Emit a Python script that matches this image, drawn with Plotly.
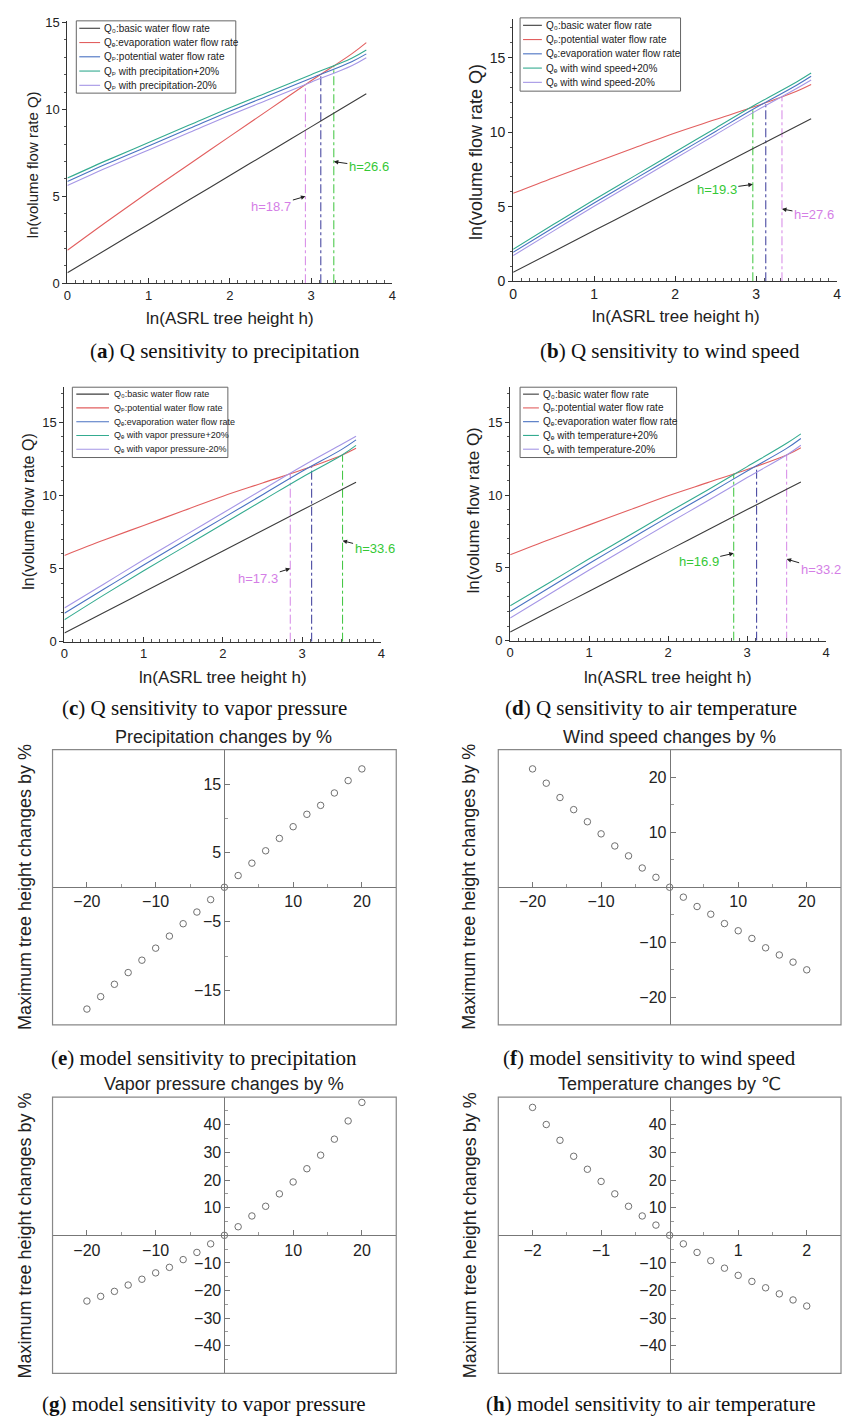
import plotly.graph_objects as go

W, H = 846, 1425
SANS = "Liberation Sans, Arial, DejaVu Sans, sans-serif"
SERIF = "Liberation Serif, Times New Roman, serif"

# ---------------- data ----------------
ln_h = [0, 0.5, 1.0, 1.5, 2.0, 2.5, 3.0, 3.5, 3.68]
q0_basic = [0.6, 2.0, 3.4, 4.8, 6.2, 7.6, 9.0, 10.4, 10.9]

# (a) precipitation
a_qe = [1.9, 3.6, 5.25, 6.85, 8.45, 10.05, 11.65, 13.2, 13.85]
a_qp = [5.85, 6.9, 7.9, 8.9, 9.9, 10.85, 11.8, 12.75, 13.2]
a_qp_p20 = [6.05, 7.1, 8.1, 9.1, 10.1, 11.05, 12.0, 12.95, 13.42]
a_qp_m20 = [5.62, 6.67, 7.67, 8.67, 9.67, 10.62, 11.57, 12.52, 12.98]
a_cross_x = [2.93, 3.12, 3.28]
a_cross_q = [11.45, 12.03, 12.53]
a_h_labels = ["h=18.7", "h=26.6"]
a_legend = ["Q₀:basic water flow rate",
            "Qₑ:evaporation water flow rate",
            "Qₚ:potential water flow rate",
            "Qₚ with precipitation+20%",
            "Qₚ with precipitation-20%"]

# (b) wind speed
b_qp = [5.9, 6.95, 7.95, 8.95, 9.95, 10.85, 11.75, 12.75, 13.2]
b_qe = [1.95, 3.6, 5.25, 6.85, 8.45, 10.05, 11.65, 13.15, 13.75]
b_qe_p20 = [2.15, 3.82, 5.47, 7.07, 8.67, 10.27, 11.87, 13.37, 13.97]
b_qe_m20 = [1.72, 3.38, 5.03, 6.63, 8.23, 9.83, 11.43, 12.93, 13.5]
b_cross_x = [2.96, 3.12, 3.32]
b_cross_q = [11.72, 12.02, 12.39]
b_h_labels = ["h=19.3", "h=27.6"]
b_legend = ["Q₀:basic water flow rate",
            "Qₚ:potential water flow rate",
            "Qₑ:evaporation water flow rate",
            "Qₑ with wind speed+20%",
            "Qₑ with wind speed-20%"]

# (c) vapor pressure
c_qp = [5.9, 6.95, 7.95, 8.95, 9.95, 10.85, 11.75, 12.75, 13.22]
c_qe = [1.95, 3.6, 5.25, 6.85, 8.45, 10.05, 11.65, 13.15, 13.8]
c_qe_p20 = [1.5, 3.2, 4.85, 6.45, 8.05, 9.65, 11.25, 12.75, 13.42]
c_qe_m20 = [2.3, 3.95, 5.6, 7.2, 8.8, 10.4, 12.0, 13.5, 14.05]
c_cross_x = [2.85, 3.12, 3.51]
c_cross_q = [11.5, 12.02, 12.78]
c_h_labels = ["h=17.3", "h=33.6"]
c_legend = ["Q₀:basic water flow rate",
            "Qₚ:potential water flow rate",
            "Qₑ:evaporation water flow rate",
            "Qₑ with vapor pressure+20%",
            "Qₑ with vapor pressure-20%"]

# (d) air temperature
d_qp = [5.9, 6.95, 7.95, 8.95, 9.95, 10.85, 11.75, 12.75, 13.25]
d_qe = [2.0, 3.65, 5.3, 6.9, 8.5, 10.05, 11.65, 13.2, 13.88]
d_qe_p20 = [2.4, 4.0, 5.62, 7.2, 8.8, 10.35, 11.95, 13.55, 14.2]
d_qe_m20 = [1.55, 3.2, 4.85, 6.45, 8.05, 9.6, 11.2, 12.75, 13.42]
d_cross_x = [2.83, 3.12, 3.50]
d_cross_q = [11.47, 12.02, 12.77]
d_h_labels = ["h=16.9", "h=33.2"]
d_legend = ["Q₀:basic water flow rate",
            "Qₚ:potential water flow rate",
            "Qₑ:evaporation water flow rate",
            "Qₑ with temperature+20%",
            "Qₑ with temperature-20%"]

# (e)-(h) model sensitivity
pct_change = [-20, -18, -16, -14, -12, -10, -8, -6, -4, -2, 0,
              2, 4, 6, 8, 10, 12, 14, 16, 18, 20]
temp_change = [-2.0, -1.8, -1.6, -1.4, -1.2, -1.0, -0.8, -0.6, -0.4, -0.2, 0.0,
               0.2, 0.4, 0.6, 0.8, 1.0, 1.2, 1.4, 1.6, 1.8, 2.0]
e_height = [-17.7, -15.9, -14.1, -12.4, -10.6, -8.85, -7.1, -5.3, -3.6, -1.8, 0,
            1.7, 3.5, 5.3, 7.1, 8.8, 10.6, 11.9, 13.7, 15.5, 17.2]
f_height = [21.5, 18.9, 16.3, 14.1, 11.9, 9.7, 7.5, 5.7, 3.5, 1.8, 0,
            -1.8, -3.5, -4.9, -6.6, -7.9, -9.3, -11.0, -12.3, -13.6, -15.0]
g_height = [-23.8, -22.1, -20.3, -18.0, -15.9, -13.6, -11.6, -8.8, -6.2, -3.1, 0,
            3.1, 7.0, 10.5, 15.0, 19.3, 24.1, 29.0, 34.8, 41.4, 48.1]
h_height = [46.3, 40.1, 34.4, 28.6, 23.9, 19.5, 15.0, 10.5, 7.0, 3.7, 0,
            -3.1, -6.2, -9.2, -11.9, -14.5, -16.7, -19.0, -21.2, -23.4, -25.6]

# ---------------- styles ----------------
C_BLACK = "#3c3c3c"
C_RED = "#e25f5f"
C_BLUE = "#4a72c2"
C_TEAL = "#34ab90"
C_LAV = "#a596e6"
V_PINK = "#d586e6"
V_BLUE = "#383898"
V_GREEN = "#3cc43c"
T_PINK = "#d47ee6"
T_GREEN = "#35c835"


def xp(px):
    return px / W


def yp(py):
    return 1 - py / H


def names(i):
    s = "" if i == 1 else str(i)
    return "x" + s, "y" + s, "xaxis" + s, "yaxis" + s


fig = go.Figure()
annotations = []
shapes = []
layout_axes = {}

line_panels = [
    dict(i=1, xpx=(64, 392), ypx=(15, 280), ymax=15.1, tfs=13, yts=15,
         series=[(q0_basic, C_BLACK), (a_qe, C_RED), (a_qp, C_BLUE), (a_qp_p20, C_TEAL), (a_qp_m20, C_LAV)],
         cx=a_cross_x, cq=a_cross_q, vcol=[V_PINK, V_BLUE, V_GREEN],
         labels=a_h_labels, lab=[(0, 5.0, -34, 10, T_PINK), (2, 7.0, 35, 5, T_GREEN)],
         legend=a_legend, lbox=(73, 15, 234, 88), ly0=22.5, ldy=14.4, lsx=(76, 97), ltx=99, lfs=10,
         ytitle=(29, 160), xtitle=(228, 316), cap=("a", "Q sensitivity to precipitation", 223, 348)),
    dict(i=2, xpx=(514, 841), ypx=(13, 278), ymax=17.6, tfs=14, yts=18,
         series=[(q0_basic, C_BLACK), (b_qp, C_RED), (b_qe, C_BLUE), (b_qe_p20, C_TEAL), (b_qe_m20, C_LAV)],
         cx=b_cross_x, cq=b_cross_q, vcol=[V_GREEN, V_BLUE, V_PINK],
         labels=b_h_labels, lab=[(0, 6.5, -36, 5, T_GREEN), (2, 4.85, 32, 6, T_PINK)],
         legend=b_legend, lbox=(521, 12, 683, 86), ly0=19.5, ldy=14.4, lsx=(524, 543), ltx=545, lfs=10,
         ytitle=(476, 147), xtitle=(678, 314), cap=("b", "Q sensitivity to wind speed", 672, 348)),
    dict(i=3, xpx=(61, 381), ypx=(385, 642), ymax=17.4, tfs=13, yts=16,
         series=[(q0_basic, C_BLACK), (c_qp, C_RED), (c_qe, C_BLUE), (c_qe_p20, C_TEAL), (c_qe_m20, C_LAV)],
         cx=c_cross_x, cq=c_cross_q, vcol=[V_PINK, V_BLUE, V_GREEN],
         labels=c_h_labels, lab=[(0, 5.0, -32, 10, T_PINK), (2, 6.9, 32, 8, T_GREEN)],
         legend=c_legend, lbox=(69, 385, 226, 456), ly0=392, ldy=13.9, lsx=(73, 106), ltx=109, lfs=9,
         ytitle=(25, 510), xtitle=(221, 678), cap=("c", "Q sensitivity to vapor pressure", 202, 709)),
    dict(i=4, xpx=(511, 830), ypx=(385, 641), ymax=17.4, tfs=13, yts=17,
         series=[(q0_basic, C_BLACK), (d_qp, C_RED), (d_qe, C_BLUE), (d_qe_p20, C_TEAL), (d_qe_m20, C_LAV)],
         cx=d_cross_x, cq=d_cross_q, vcol=[V_GREEN, V_BLUE, V_PINK],
         labels=d_h_labels, lab=[(0, 6.0, -35, 8, T_GREEN), (2, 5.6, 34, 10, T_PINK)],
         legend=d_legend, lbox=(521, 385, 679, 456), ly0=392, ldy=13.9, lsx=(524, 540), ltx=542, lfs=10,
         ytitle=(474, 510), xtitle=(670, 678), cap=("d", "Q sensitivity to air temperature", 653, 709)),
]

for p in line_panels:
    xa, ya, xk, yk = names(p["i"])
    for k in range(len(p["cx"])):
        fig.add_trace(go.Scatter(x=[p["cx"][k], p["cx"][k]], y=[0, p["cq"][k]], mode="lines",
                                 line=dict(color=p["vcol"][k], width=1, dash="dashdot"),
                                 xaxis=xa, yaxis=ya, showlegend=False, hoverinfo="skip"))
    for ys, col in p["series"]:
        fig.add_trace(go.Scatter(x=ln_h, y=ys, mode="lines", line=dict(color=col, width=1.1, shape="spline"),
                                 xaxis=xa, yaxis=ya, showlegend=False))
    x0, x1 = p["xpx"]
    t, b = p["ypx"]
    layout_axes[xk] = dict(domain=[xp(x0), xp(x1)], range=[0, 4], anchor=ya, showline=True,
                           linecolor="#333", linewidth=1, ticks="inside", ticklen=5, tickcolor="#333",
                           tick0=0, dtick=1, showgrid=False, zeroline=False,
                           minor=dict(dtick=0.1, ticks="inside", ticklen=3, tickcolor="#555"),
                           tickfont=dict(family=SANS, size=p["tfs"], color="#222"))
    layout_axes[yk] = dict(domain=[yp(b), yp(t)], range=[0, p["ymax"]], anchor=xa, showline=True,
                           linecolor="#333", linewidth=1, ticks="outside", ticklen=4, tickcolor="#333",
                           tick0=0, dtick=5, showgrid=False, zeroline=False,
                           minor=dict(dtick=1, ticks="outside", ticklen=2, tickcolor="#555"),
                           tickfont=dict(family=SANS, size=p["tfs"], color="#222"))
    for (k, yv, ax, ay, col), txt in zip(p["lab"], p["labels"]):
        annotations.append(dict(x=p["cx"][k], y=yv, xref=xa, yref=ya, text=txt, showarrow=True,
                                ax=ax, ay=ay, arrowhead=2, arrowsize=0.9, arrowwidth=1, arrowcolor="#222",
                                standoff=0, font=dict(family=SANS, size=13, color=col)))
    lx0, ly0, lx1, ly1 = p["lbox"]
    shapes.append(dict(type="rect", xref="paper", yref="paper", x0=xp(lx0), x1=xp(lx1),
                       y0=yp(ly1), y1=yp(ly0), line=dict(color="#666", width=1),
                       fillcolor="white", layer="above"))
    for j, (txt, (ys, col)) in enumerate(zip(p["legend"], p["series"])):
        yy = p["ly0"] + j * p["ldy"]
        shapes.append(dict(type="line", xref="paper", yref="paper", x0=xp(p["lsx"][0]), x1=xp(p["lsx"][1]),
                           y0=yp(yy), y1=yp(yy), line=dict(color=col, width=1.1), layer="above"))
        annotations.append(dict(x=xp(p["ltx"]), y=yp(yy), xref="paper", yref="paper", text=txt,
                                showarrow=False, xanchor="left", yanchor="middle",
                                font=dict(family=SANS, size=p["lfs"], color="#222")))
    annotations.append(dict(x=xp(p["ytitle"][0]), y=yp(p["ytitle"][1]), xref="paper", yref="paper",
                            text="ln(volume flow rate Q)", textangle=-90, showarrow=False,
                            xanchor="center", yanchor="middle",
                            font=dict(family=SANS, size=p["yts"], color="#222")))
    annotations.append(dict(x=xp(p["xtitle"][0]), y=yp(p["xtitle"][1]), xref="paper", yref="paper",
                            text="ln(ASRL tree height h)", showarrow=False,
                            xanchor="center", yanchor="middle",
                            font=dict(family=SANS, size=17, color="#222")))
    letter, cap, cxp, cyp = p["cap"]
    annotations.append(dict(x=xp(cxp), y=yp(cyp), xref="paper", yref="paper",
                            text="(<b>%s</b>) %s" % (letter, cap), showarrow=False,
                            xanchor="center", yanchor="middle",
                            font=dict(family=SERIF, size=21, color="#111")))

scatter_panels = [
    dict(i=5, xpx=(49, 396), ypx=(751, 1029), x=pct_change, y=e_height, xr=25, yr=20,
         xmaj=[-20, -10, 10, 20], xmin=[-15, -5, 5, 15],
         ymaj=[-15, -5, 5, 15], ymin=[-10, 10],
         title="Precipitation changes by %", tpos=(222, 738), ytpos=(21, 890),
         cap=("e", "model sensitivity to precipitation", 202, 1062)),
    dict(i=6, xpx=(499, 845), ypx=(751, 1029), x=pct_change, y=f_height, xr=25, yr=25,
         xmaj=[-20, -10, 10, 20], xmin=[-15, -5, 5, 15],
         ymaj=[-20, -10, 10, 20], ymin=[-15, -5, 5, 15],
         title="Wind speed changes by %", tpos=(672, 738), ytpos=(470, 890),
         cap=("f", "model sensitivity to wind speed", 652, 1062)),
    dict(i=7, xpx=(49, 396), ypx=(1102, 1381), x=pct_change, y=g_height, xr=25, yr=50,
         xmaj=[-20, -10, 10, 20], xmin=[-15, -5, 5, 15],
         ymaj=[-40, -30, -20, -10, 10, 20, 30, 40], ymin=[-45, -35, -25, -15, -5, 5, 15, 25, 35, 45],
         title="Vapor pressure changes by %", tpos=(222, 1089), ytpos=(21, 1242),
         cap=("g", "model sensitivity to vapor pressure", 202, 1412)),
    dict(i=8, xpx=(499, 845), ypx=(1102, 1381), x=temp_change, y=h_height, xr=2.5, yr=50,
         xmaj=[-2, -1, 1, 2], xmin=[-1.5, -0.5, 0.5, 1.5],
         ymaj=[-40, -30, -20, -10, 10, 20, 30, 40], ymin=[-45, -35, -25, -15, -5, 5, 15, 25, 35, 45],
         title="Temperature changes by ℃", tpos=(672, 1089), ytpos=(470, 1242),
         cap=("h", "model sensitivity to air temperature", 653, 1412)),
]

for p in scatter_panels:
    xa, ya, xk, yk = names(p["i"])
    fig.add_trace(go.Scatter(x=p["x"], y=p["y"], mode="markers",
                             marker=dict(symbol="circle-open", size=6.5, color="#707070", line=dict(width=1)),
                             xaxis=xa, yaxis=ya, showlegend=False))
    x0, x1 = p["xpx"]
    t, b = p["ypx"]
    xd = [xp(x0), xp(x1)]
    yd = [yp(b), yp(t)]
    layout_axes[xk] = dict(domain=xd, range=[-p["xr"], p["xr"]], anchor="free", position=(yd[0] + yd[1]) / 2,
                           showline=True, linecolor="#777", linewidth=1, ticks="inside", ticklen=5,
                           tickcolor="#777", tickmode="array", tickvals=p["xmaj"],
                           minor=dict(tickmode="array", tickvals=p["xmin"], ticks="inside", ticklen=3,
                                      tickcolor="#999"),
                           showgrid=False, zeroline=False,
                           tickfont=dict(family=SANS, size=16, color="#222"))
    layout_axes[yk] = dict(domain=yd, range=[-p["yr"], p["yr"]], anchor="free", position=(xd[0] + xd[1]) / 2,
                           showline=True, linecolor="#777", linewidth=1, ticks="inside", ticklen=5,
                           tickcolor="#777", tickmode="array", tickvals=p["ymaj"],
                           minor=dict(tickmode="array", tickvals=p["ymin"], ticks="inside", ticklen=3,
                                      tickcolor="#999"),
                           showgrid=False, zeroline=False,
                           tickfont=dict(family=SANS, size=16, color="#222"))
    shapes.append(dict(type="rect", xref=xa + " domain", yref=ya + " domain", x0=0, x1=1, y0=0, y1=1,
                       line=dict(color="#888", width=1.2), layer="above"))
    annotations.append(dict(x=xp(p["tpos"][0]), y=yp(p["tpos"][1]), xref="paper", yref="paper",
                            text=p["title"], showarrow=False, xanchor="center", yanchor="middle",
                            font=dict(family=SANS, size=18, color="#222")))
    annotations.append(dict(x=xp(p["ytpos"][0]), y=yp(p["ytpos"][1]), xref="paper", yref="paper",
                            text="Maximum tree height changes by %", textangle=-90, showarrow=False,
                            xanchor="center", yanchor="middle",
                            font=dict(family=SANS, size=18, color="#222")))
    letter, cap, cxp, cyp = p["cap"]
    annotations.append(dict(x=xp(cxp), y=yp(cyp), xref="paper", yref="paper",
                            text="(<b>%s</b>) %s" % (letter, cap), showarrow=False,
                            xanchor="center", yanchor="middle",
                            font=dict(family=SERIF, size=21, color="#111")))

fig.update_layout(width=W, height=H, margin=dict(l=0, r=0, t=0, b=0), autosize=False,
                  paper_bgcolor="white", plot_bgcolor="white", showlegend=False,
                  annotations=annotations, shapes=shapes, **layout_axes)

fig.write_html("out.html")
